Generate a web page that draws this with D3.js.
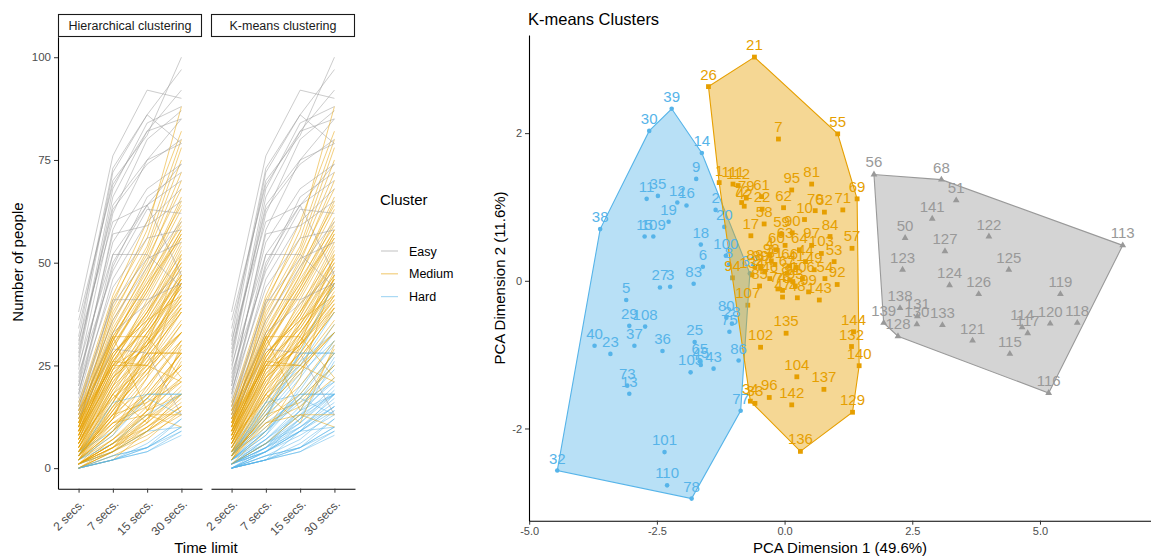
<!DOCTYPE html>
<html>
<head>
<meta charset="utf-8">
<script src="https://cdn.jsdelivr.net/npm/d3@7"></script>
<style>
  body { margin: 0; background: #fff; }
  text { font-family: "Liberation Sans", Arial, sans-serif; }
</style>
</head>
<body>
<svg width="1151" height="556"></svg>
<script>
// ---- data ----
var timeLimits = ['2 secs.', '7 secs.', '15 secs.', '30 secs.'];
var clusterNames = ['Easy', 'Medium', 'Hard'];
var clusterColors = { Easy: '#999999', Medium: '#E69F00', Hard: '#56B4E9' };
var facetNames = ['Hierarchical clustering', 'K-means clustering'];

// PCA coordinates per k-means cluster: [item, dim1, dim2]
var easyPoints = [
  [56, 1.75, 1.44], [68, 3.07, 1.37], [51, 3.36, 1.09], [141, 2.89, 0.84], [50, 2.36, 0.58],
  [122, 4.00, 0.60], [127, 3.14, 0.40], [113, 6.62, 0.48], [123, 2.31, 0.15], [125, 4.39, 0.15],
  [124, 3.23, -0.06], [126, 3.80, -0.18], [119, 5.40, -0.18], [138, 2.26, -0.37], [131, 2.60, -0.48],
  [139, 1.94, -0.57], [130, 2.59, -0.59], [133, 3.09, -0.60], [128, 2.22, -0.75], [121, 3.68, -0.81],
  [114, 4.65, -0.63], [117, 4.76, -0.71], [120, 5.20, -0.58], [118, 5.73, -0.57], [115, 4.41, -0.99],
  [116, 5.17, -1.52]
];
var mediumPoints = [
  [21, -0.59, 3.03], [26, -1.49, 2.63], [55, 1.04, 1.99], [7, -0.12, 1.92], [1, -1.28, 1.33],
  [111, -1.01, 1.31], [112, -0.91, 1.29], [79, -0.75, 1.12], [72, -0.84, 1.06], [42, -0.79, 1.01],
  [61, -0.45, 1.14], [22, -0.44, 0.97], [62, -0.02, 0.99], [95, 0.14, 1.23], [81, 0.53, 1.31],
  [70, 0.60, 0.95], [52, 0.78, 0.93], [71, 1.14, 0.96], [69, 1.42, 1.11], [58, -0.40, 0.77],
  [17, -0.66, 0.61], [59, -0.06, 0.63], [90, 0.15, 0.65], [63, 0.01, 0.48], [97, 0.53, 0.48],
  [84, 0.89, 0.60], [103, 0.72, 0.37], [57, 1.32, 0.44], [98, -0.26, 0.27], [66, 0.10, 0.20],
  [88, -0.58, 0.19], [89, -0.47, 0.17], [24, -0.39, 0.12], [85, -0.49, -0.07], [74, -0.13, -0.11],
  [76, -0.04, -0.13], [67, 0.05, 0.10], [87, 0.10, 0.01], [106, 0.35, 0.03], [91, 0.16, -0.01],
  [93, 0.21, -0.07], [54, 0.79, 0.03], [99, 0.47, -0.15], [94, -1.02, 0.04], [107, -0.72, -0.33],
  [135, 0.03, -0.71], [102, -0.47, -0.90], [144, 1.35, -0.69], [132, 1.31, -0.89], [140, 1.46, -1.15],
  [104, 0.24, -1.30], [137, 0.77, -1.47], [142, 0.14, -1.68], [96, -0.30, -1.58], [34, -0.67, -1.63],
  [33, -0.58, -1.66], [129, 1.33, -1.78], [136, 0.31, -2.31], [4, -0.29, 0.35], [31, -0.19, 0.22],
  [41, 0.23, 0.18], [44, 0.41, 0.26], [46, -0.29, 0.03], [47, -0.04, -0.22], [48, 0.25, -0.23],
  [49, 0.58, 0.15], [53, 0.97, 0.26], [60, -0.16, 0.42], [64, 0.29, 0.42], [92, 1.03, -0.05],
  [134, -0.64, 0.08], [143, 0.68, -0.26], [10, 0.39, 0.83]
];
var hardPoints = [
  [39, -2.21, 2.33], [30, -2.65, 2.03], [14, -1.62, 1.73], [9, -1.73, 1.38], [11, -2.70, 1.11],
  [35, -2.48, 1.15], [12, -2.10, 1.06], [16, -1.92, 1.02], [2, -1.35, 0.96], [19, -2.27, 0.80],
  [20, -1.18, 0.73], [38, -3.61, 0.70], [15, -2.74, 0.60], [109, -2.57, 0.60], [18, -1.64, 0.49],
  [100, -1.15, 0.34], [8, -1.09, 0.22], [6, -1.60, 0.19], [82, -0.68, 0.10], [83, -1.78, -0.04],
  [27, -2.44, -0.09], [3, -2.24, -0.08], [5, -3.10, -0.26], [29, -3.04, -0.61], [108, -2.73, -0.62],
  [80, -1.14, -0.50], [28, -1.03, -0.58], [75, -1.08, -0.69], [25, -1.76, -0.83], [40, -3.72, -0.88],
  [37, -2.94, -0.88], [23, -3.41, -0.99], [36, -2.39, -0.95], [86, -0.90, -1.08], [65, -1.66, -1.09],
  [45, -1.64, -1.14], [43, -1.39, -1.19], [105, -1.84, -1.24], [73, -3.08, -1.42], [13, -3.04, -1.53],
  [77, -0.86, -1.76], [101, -2.35, -2.32], [110, -2.30, -2.77], [78, -1.82, -2.95], [32, -4.45, -2.57]
];

// number of people per time limit: [item, 2s, 7s, 15s, 30s]
var peopleCounts = [
  [1, 5, 22, 30, 41], [2, 3, 12, 22, 33], [3, 1, 6, 12, 20], [4, 8, 26, 38, 50], [5, 0, 4, 9, 15],
  [6, 2, 10, 18, 28], [7, 3, 15, 27, 38], [8, 4, 14, 24, 35], [9, 2, 9, 19, 31], [10, 9, 30, 42, 57],
  [11, 1, 5, 11, 18], [12, 1, 7, 13, 22], [13, 0, 3, 5, 10], [14, 2, 8, 20, 30], [15, 0, 5, 10, 17],
  [16, 2, 7, 15, 24], [17, 4, 18, 25, 36], [18, 3, 11, 17, 28], [19, 1, 6, 14, 21], [20, 4, 15, 25, 38],
  [21, 2, 12, 30, 52], [22, 6, 21, 33, 44], [23, 0, 2, 6, 12], [24, 7, 25, 34, 47], [25, 2, 9, 16, 21],
  [26, 1, 9, 22, 47], [27, 1, 5, 12, 18], [28, 3, 13, 23, 31], [29, 0, 4, 8, 13], [30, 1, 4, 12, 26],
  [31, 8, 28, 37, 53], [32, 0, 2, 4, 9], [33, 3, 13, 16, 25], [34, 2, 11, 15, 22], [35, 1, 6, 11, 19],
  [36, 1, 5, 9, 15], [37, 0, 3, 7, 14], [38, 0, 2, 9, 18], [39, 1, 5, 14, 27], [40, 0, 2, 5, 10],
  [41, 10, 32, 45, 61], [42, 5, 19, 28, 40], [43, 2, 8, 17, 13], [44, 11, 33, 47, 63], [45, 1, 7, 14, 18],
  [46, 6, 23, 31, 42], [47, 7, 24, 29, 45], [48, 9, 27, 39, 55], [49, 12, 34, 48, 66], [50, 20, 58, 75, 85],
  [51, 24, 62, 80, 87], [52, 13, 38, 52, 72], [53, 14, 36, 50, 70], [54, 11, 31, 46, 59], [55, 10, 40, 58, 88],
  [56, 18, 50, 64, 74], [57, 15, 39, 54, 78], [58, 5, 20, 35, 46], [59, 7, 27, 40, 52], [60, 6, 22, 36, 49],
  [61, 4, 16, 32, 48], [62, 8, 25, 41, 56], [63, 7, 24, 37, 51], [64, 10, 29, 43, 58], [65, 2, 6, 13, 18],
  [66, 9, 26, 38, 54], [67, 8, 28, 36, 50], [68, 26, 66, 82, 92], [69, 16, 42, 60, 82], [70, 12, 35, 51, 68],
  [71, 15, 41, 56, 80], [72, 4, 17, 26, 39], [73, 0, 3, 5, 12], [74, 6, 21, 30, 43], [75, 3, 12, 28, 28],
  [76, 7, 22, 32, 44], [77, 4, 9, 18, 18], [78, 1, 4, 9, 10], [79, 3, 16, 29, 42], [80, 3, 14, 28, 28],
  [81, 11, 37, 53, 75], [82, 5, 16, 28, 45], [83, 2, 9, 17, 25], [84, 13, 33, 49, 64], [85, 5, 18, 27, 38],
  [86, 3, 16, 18, 18], [87, 8, 25, 35, 49], [88, 5, 19, 31, 41], [89, 6, 20, 28, 39], [90, 9, 29, 44, 60],
  [91, 9, 26, 34, 46], [92, 14, 32, 45, 56], [93, 8, 23, 33, 45], [94, 2, 14, 24, 33], [95, 10, 31, 47, 65],
  [96, 3, 10, 17, 25], [97, 11, 30, 43, 57], [98, 6, 24, 35, 47], [99, 9, 22, 30, 40], [100, 4, 13, 26, 33],
  [101, 0, 2, 5, 9], [102, 4, 12, 18, 28], [103, 12, 31, 44, 58], [104, 6, 18, 11, 30], [105, 1, 6, 10, 15],
  [106, 10, 27, 38, 51], [107, 3, 13, 20, 31], [108, 0, 4, 9, 14], [109, 1, 4, 10, 16], [110, 0, 2, 4, 8],
  [111, 3, 18, 31, 46], [112, 4, 20, 33, 45], [113, 38, 76, 92, 90], [114, 30, 72, 86, 97], [115, 34, 70, 81, 100],
  [116, 32, 73, 86, 79], [117, 28, 64, 75, 79], [118, 36, 69, 82, 85], [119, 27, 68, 84, 88], [120, 31, 60, 64, 47],
  [121, 22, 55, 68, 74], [122, 25, 52, 64, 70], [123, 17, 46, 60, 68], [124, 21, 57, 59, 65], [125, 29, 63, 74, 80],
  [126, 23, 48, 63, 62], [127, 19, 44, 56, 58], [128, 14, 41, 41, 45], [129, 10, 32, 14, 29], [130, 16, 40, 51, 55],
  [131, 15, 36, 49, 60], [132, 13, 32, 32, 22], [133, 18, 52, 52, 44], [134, 2, 15, 23, 35], [135, 7, 17, 24, 33],
  [136, 1, 6, 13, 10], [137, 9, 26, 25, 21], [138, 12, 29, 28, 13], [139, 13, 33, 40, 48], [140, 12, 25, 25, 33],
  [141, 20, 49, 66, 72], [142, 4, 11, 13, 13], [143, 11, 25, 30, 39], [144, 14, 28, 36, 42]
];

// items that hierarchical clustering keeps as "Hard" (the other k-means Hard items go to Medium)
var hierHardItems = [13, 23, 32, 40, 73, 78, 101, 110, 86, 77, 43, 65];

// ---- cluster lookup ----
var kmeansCluster = {};
easyPoints.forEach(function(p) { kmeansCluster[p[0]] = 'Easy'; });
mediumPoints.forEach(function(p) { kmeansCluster[p[0]] = 'Medium'; });
hardPoints.forEach(function(p) { kmeansCluster[p[0]] = 'Hard'; });

var hierCluster = function(item) {
    var k = kmeansCluster[item];
    if (k === 'Hard' && hierHardItems.indexOf(item) < 0) return 'Medium';
    return k;
};

var svg = d3.select('svg');

// ================= left: line facets =================
var yPeople = d3.scaleLinear().domain([-5, 105]).range([488.7, 36.7]);
var facetRanges = [[58, 202], [211, 355]];

facetNames.forEach(function(name, fi) {
    var r = facetRanges[fi];
    var xTime = d3.scalePoint().domain(timeLimits).range(r).padding(0.6);
    var g = svg.append('g');

    g.append('rect')
        .attr('x', r[0] + 0.5).attr('y', 14.5)
        .attr('width', r[1] - r[0] - 1).attr('height', 22)
        .attr('fill', '#fff').attr('stroke', '#1a1a1a').attr('stroke-width', 1.1);
    g.append('text')
        .attr('x', (r[0] + r[1]) / 2).attr('y', 30)
        .attr('text-anchor', 'middle').attr('font-size', 12.5).attr('fill', '#1a1a1a')
        .text(name);

    var line = d3.line()
        .x(function(v, j) { return xTime(timeLimits[j]); })
        .y(function(v) { return yPeople(v); });

    g.append('g')
        .selectAll('path')
        .data(peopleCounts)
        .enter()
        .append('path')
            .attr('d', function(d) { return line(d.slice(1)); })
            .attr('fill', 'none')
            .attr('stroke-width', 1)
            .attr('stroke-opacity', 0.5)
            .attr('stroke', function(d) {
                var c = fi === 0 ? hierCluster(d[0]) : kmeansCluster[d[0]];
                return clusterColors[c];
            });

    var ax = g.append('g')
        .attr('transform', 'translate(0,488.7)')
        .call(d3.axisBottom(xTime).tickSize(4).tickSizeOuter(0));
    ax.select('.domain').attr('stroke', '#000').attr('stroke-width', 1.1);
    ax.selectAll('.tick line').attr('stroke', '#333');
    ax.selectAll('.tick text')
        .attr('y', 0).attr('x', 0).attr('dy', 0)
        .attr('transform', 'translate(6,16) rotate(-45)')
        .attr('text-anchor', 'end')
        .attr('font-size', 12).attr('fill', '#4d4d4d')
        .style('font-family', '"Liberation Sans", Arial, sans-serif');
});

var yAx = svg.append('g')
    .attr('transform', 'translate(58,0)')
    .call(d3.axisLeft(yPeople).tickValues([0, 25, 50, 75, 100]).tickSize(4).tickSizeOuter(0));
yAx.select('.domain').attr('stroke', '#000').attr('stroke-width', 1.1);
yAx.selectAll('.tick line').attr('stroke', '#333');
yAx.selectAll('.tick text')
    .attr('font-size', 11.5).attr('fill', '#4d4d4d')
    .style('font-family', '"Liberation Sans", Arial, sans-serif');

svg.append('text')
    .attr('transform', 'translate(23,262) rotate(-90)')
    .attr('text-anchor', 'middle').attr('font-size', 15)
    .text('Number of people');
svg.append('text')
    .attr('x', 206).attr('y', 553)
    .attr('text-anchor', 'middle').attr('font-size', 15)
    .text('Time limit');

// legend
svg.append('text')
    .attr('x', 380).attr('y', 205)
    .attr('font-size', 15)
    .text('Cluster');
clusterNames.forEach(function(c, i) {
    var ly = 251 + i * 22.8;
    svg.append('line')
        .attr('x1', 381).attr('x2', 398).attr('y1', ly).attr('y2', ly)
        .attr('stroke', clusterColors[c]).attr('stroke-opacity', 0.5).attr('stroke-width', 1.2);
    svg.append('text')
        .attr('x', 409).attr('y', ly + 4.5)
        .attr('font-size', 12.5)
        .text(c);
});

// ================= right: PCA clusters =================
var allPoints = easyPoints.concat(mediumPoints, hardPoints);
var xExt = d3.extent(allPoints, function(d) { return d[1]; });
var yExt = d3.extent(allPoints, function(d) { return d[2]; });
var xPad = (xExt[1] - xExt[0]) * 0.05;
var yPad = (yExt[1] - yExt[0]) * 0.05;

var xPca = d3.scaleLinear().domain([xExt[0] - xPad, xExt[1] + xPad]).range([529, 1151]);
var yPca = d3.scaleLinear().domain([yExt[0] - yPad, yExt[1] + yPad]).range([520.7, 35]);

var groups = [
    { name: 'Hard', pts: hardPoints },
    { name: 'Medium', pts: mediumPoints },
    { name: 'Easy', pts: easyPoints }
];

var plot = svg.append('g');

// points
groups.forEach(function(grp) {
    var col = clusterColors[grp.name];
    var sel = plot.append('g').selectAll('path').data(grp.pts).enter();
    if (grp.name === 'Hard') {
        sel.append('circle')
            .attr('cx', function(d) { return xPca(d[1]); })
            .attr('cy', function(d) { return yPca(d[2]); })
            .attr('r', 2.3).attr('fill', col);
    } else if (grp.name === 'Medium') {
        sel.append('rect')
            .attr('x', function(d) { return xPca(d[1]) - 2.4; })
            .attr('y', function(d) { return yPca(d[2]) - 2.4; })
            .attr('width', 4.8).attr('height', 4.8).attr('fill', col);
    } else {
        sel.append('path')
            .attr('d', d3.symbol(d3.symbolTriangle).size(20))
            .attr('transform', function(d) { return 'translate(' + xPca(d[1]) + ',' + yPca(d[2]) + ')'; })
            .attr('fill', col);
    }
});

// convex hulls
groups.forEach(function(grp) {
    var hull = d3.polygonHull(grp.pts.map(function(d) { return [xPca(d[1]), yPca(d[2])]; }));
    plot.append('path')
        .attr('d', 'M' + hull.join('L') + 'Z')
        .attr('fill', clusterColors[grp.name]).attr('fill-opacity', 0.42)
        .attr('stroke', clusterColors[grp.name]).attr('stroke-width', 1.1);
});

// labels
groups.forEach(function(grp) {
    plot.append('g').selectAll('text').data(grp.pts).enter()
        .append('text')
            .attr('x', function(d) { return xPca(d[1]); })
            .attr('y', function(d) { return yPca(d[2]) - 7; })
            .attr('text-anchor', 'middle')
            .attr('font-size', 15)
            .attr('fill', clusterColors[grp.name])
            .text(function(d) { return d[0]; });
});

var xa = svg.append('g')
    .attr('transform', 'translate(0,520.7)')
    .call(d3.axisBottom(xPca).tickValues([-5, -2.5, 0, 2.5, 5])
        .tickFormat(function(d) { return d.toFixed(1); }).tickSize(4).tickSizeOuter(0));
var ya = svg.append('g')
    .attr('transform', 'translate(529,0)')
    .call(d3.axisLeft(yPca).tickValues([-2, 0, 2])
        .tickFormat(function(d) { return String(d); }).tickSize(4).tickSizeOuter(0));
[xa, ya].forEach(function(a) {
    a.select('.domain').attr('stroke', '#000').attr('stroke-width', 1.1);
    a.selectAll('.tick line').attr('stroke', '#333');
    a.selectAll('.tick text')
        .attr('font-size', 11).attr('fill', '#4d4d4d')
        .style('font-family', '"Liberation Sans", Arial, sans-serif');
});

svg.append('text')
    .attr('x', 528).attr('y', 25)
    .attr('font-size', 16.5)
    .text('K-means Clusters');
svg.append('text')
    .attr('x', 840).attr('y', 553)
    .attr('text-anchor', 'middle').attr('font-size', 15)
    .text('PCA Dimension 1 (49.6%)');
svg.append('text')
    .attr('transform', 'translate(505,278) rotate(-90)')
    .attr('text-anchor', 'middle').attr('font-size', 15)
    .text('PCA Dimension 2 (11.6%)');
</script>
</body>
</html>
